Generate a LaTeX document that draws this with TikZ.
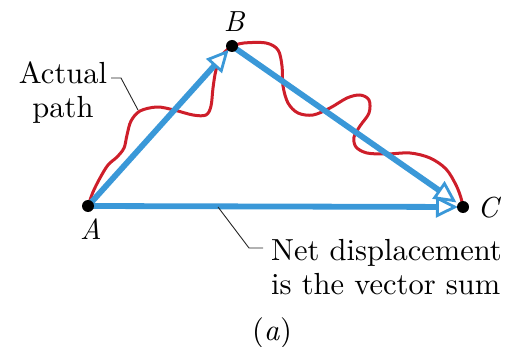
\documentclass[tikz,border=0pt]{standalone}
\usepackage{fontspec}
\setmainfont{lmroman10}[Extension=.otf,UprightFont=*-regular,ItalicFont=*-italic,BoldFont=*-bold]
\usetikzlibrary{arrows.meta}
\definecolor{vecblue}{RGB}{58,152,216}
\definecolor{pathred}{RGB}{206,30,42}
\begin{document}
\begin{tikzpicture}[x=1pt,y=-1pt,
  vec/.style={draw=vecblue,line width=5.8pt,shorten >=5pt,
    -{Triangle[length=22pt,width=21pt,line width=2.8pt,fill=white]}},
  redpath/.style={draw=pathred,line width=3pt,line cap=round,line join=round},
  dot/.style={circle,fill=black,inner sep=0pt,minimum size=12pt},
  lead/.style={draw=black!85,line width=0.9pt},
  txt/.style={font=\fontsize{30.5}{34}\selectfont},
  lbl/.style={font=\fontsize{29}{34}\selectfont\itshape}]
\useasboundingbox (0,0) rectangle (513,347);
\coordinate (A) at (88,206);
\coordinate (B) at (232,46);
\coordinate (C) at (463,207);
% actual path
\draw[redpath] plot[smooth,tension=0.55] coordinates {
  (88,206) (93,192) (100,178) (108,165) (117,157) (124,148) (127,135) (131,121)
  (140,111) (157,107) (174,110) (193,115) (206,115) (211,106) (213,88) (216,70) (222,55) (232,46)};
\draw[redpath] plot[smooth,tension=0.55] coordinates {
  (232,46) (244,43) (266,43) (278,50) (282,66) (283,86) (288,103) (298,113) (313,115)
  (330,108) (347,98) (360,95) (369,100) (369,113) (360,126) (354,137) (356,147)
  (367,153) (387,154) (410,153) (430,158) (446,169) (456,185) (461,198) (463,207)};
% vectors
\draw[vec] (A) -- (B);
\draw[vec,shorten >=8pt] (B) -- (C);
\draw[vec] (A) -- (C);
% dots
\node[dot] (dA) at (A) {};
\node[dot] (dB) at (B) {};
\node[dot] (dC) at (C) {};
% labels
\node[lbl,anchor=base,inner sep=0pt] (la) at (91,239) {A};
\node[lbl,anchor=base,inner sep=0pt] (lb) at (234,32) {B};
\node[lbl,anchor=base,inner sep=0pt] (lc) at (488,217) {C};
% leaders
\node[txt,anchor=base,align=center,inner sep=0pt] (actual) at (63,118) {Actual\\path};
\coordinate (p1) at (111,78);
\coordinate (p2) at (121,78);
\coordinate (p3) at (138,110);
\draw[lead] (p1) -- (p2) -- (p3);
\node[txt,anchor=base west,align=left,inner sep=0pt] (net) at (271,294) {Net displacement\\is the vector sum};
\coordinate (q1) at (218,207);
\coordinate (q2) at (249,248);
\coordinate (q3) at (263,248);
\draw[lead] (q1) -- (q2) -- (q3);
\node[txt,anchor=base,inner sep=0pt] (cap) at (272,340) {(\textit{a})};
\end{tikzpicture}
\end{document}
